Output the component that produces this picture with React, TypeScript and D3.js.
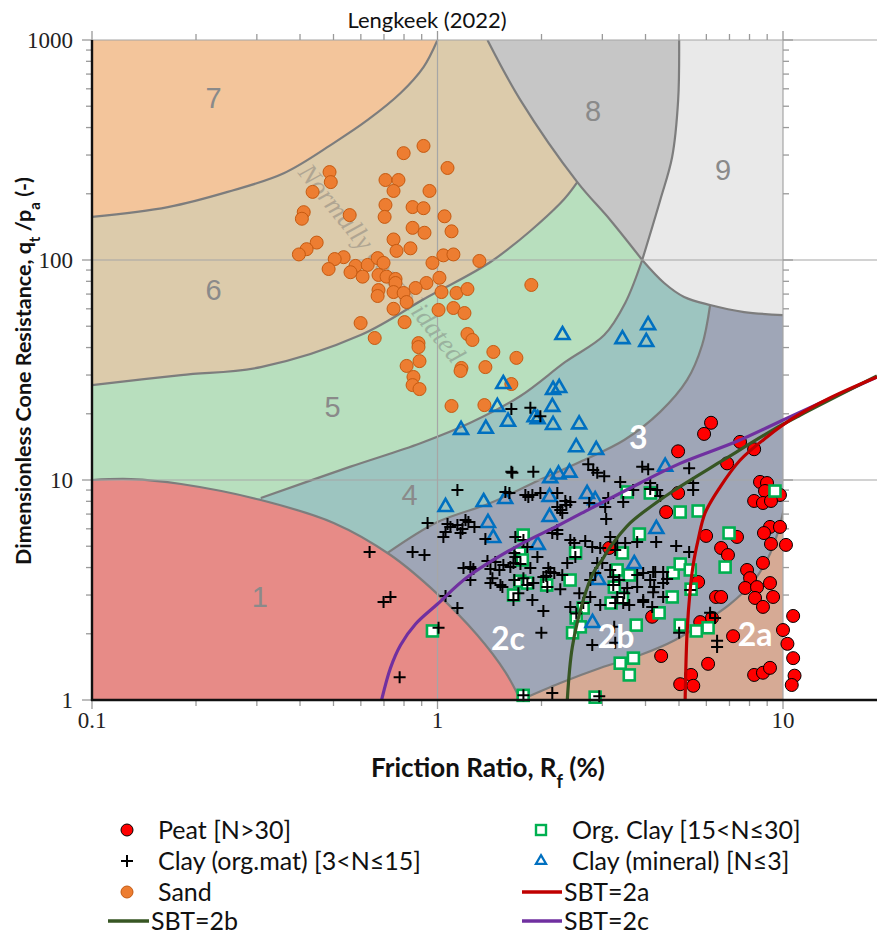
import { useEffect, useRef } from "react"
import * as d3 from "d3"

type Pt = [number, number]

// ---- data (Rf %, qt/pa) ----
const peat: Pt[] = [
  [6.19, 18.2], [5.91, 16.2], [4.97, 13.5], [7.51, 14.9], [8.25, 13.8], [6.89, 11.9], [4.97, 8.73], [4.59, 7.15],
  [8.58, 9.8], [8.99, 9.69], [8.87, 8.91], [9.8, 8.55], [8.25, 8.03], [8.75, 7.86], [9.23, 8.03], [9.17, 6.12],
  [9.8, 6.12], [8.81, 5.74], [9.23, 5.12], [10.2, 5.07], [5.99, 5.57], [7.36, 5.51], [6.62, 4.91], [6.93, 4.56],
  [7.87, 3.9], [8.75, 4.2], [8.03, 3.58], [7.77, 3.23], [8.41, 3.26], [9.17, 3.4], [8.3, 2.91], [9.36, 2.94],
  [8.75, 2.65], [10.7, 2.41], [5.68, 3.44], [6.4, 2.94], [6.62, 2.94], [5.76, 2.26], [6.23, 2.36], [7.17, 1.95],
  [10.0, 2.08], [10.3, 1.8], [10.7, 1.55], [4.44, 1.585], [6.07, 1.46], [8.25, 1.3], [8.75, 1.33], [9.17, 1.4],
  [10.8, 1.29], [10.6, 1.17], [5.04, 1.18], [5.42, 1.3], [5.5, 1.16], [4.18, 2.39], [3.14, 4.91],
]

const orgClay: Pt[] = [
  [0.967, 2.06], [1.77, 5.62], [1.73, 4.66], [1.76, 4.33], [1.73, 3.47], [1.82, 3.4], [1.66, 3.0], [2.07, 3.33],
  [2.42, 3.51], [2.51, 4.66], [1.77, 1.05], [2.86, 1.03], [3.54, 8.82], [4.13, 8.73], [3.84, 5.68], [3.43, 4.66],
  [3.31, 3.9], [3.59, 3.7], [3.25, 3.26], [3.43, 2.91], [3.18, 2.76], [2.64, 2.62], [2.52, 2.36], [2.46, 2.02],
  [2.59, 2.15], [3.76, 2.19], [3.38, 1.47], [3.69, 1.55], [3.59, 1.3], [5.04, 7.15], [5.68, 7.23], [6.98, 5.74],
  [6.8, 4.02], [9.48, 8.91], [4.81, 3.78], [5.04, 4.15], [5.39, 3.9], [5.42, 3.19], [4.78, 2.94], [4.38, 2.49],
  [5.04, 2.19], [5.61, 2.06], [6.07, 2.13],
]

const clayOrgMat: Pt[] = [
  [0.636, 4.71], [0.698, 2.79], [0.731, 2.94], [0.777, 1.27], [0.847, 4.71], [0.917, 4.56], [0.936, 6.38], [1.007, 2.13],
  [1.055, 2.97], [1.142, 2.62], [1.142, 9.0], [1.069, 6.31], [1.09, 6.11], [1.142, 6.24], [1.205, 6.58], [1.229, 6.44],
  [1.181, 5.99], [1.279, 6.11], [1.055, 5.81], [1.04, 5.51], [1.166, 5.74], [1.376, 5.39], [1.615, 8.73], [1.647, 10.8],
  [1.189, 3.98], [1.245, 4.02], [1.27, 3.94], [1.395, 4.28], [1.471, 4.24], [1.423, 3.94], [1.551, 4.11], [1.659, 4.2],
  [1.442, 3.58], [1.541, 3.26], [1.423, 3.4], [1.511, 3.9], [1.659, 2.85], [1.773, 3.58], [1.882, 2.85], [2.025, 2.54],
  [1.998, 2.02], [1.773, 1.05], [2.149, 1.076], [2.267, 3.19], [2.065, 3.66], [2.093, 3.98], [2.375, 4.2], [2.573, 3.06],
  [2.768, 2.94], [2.522, 2.47], [2.805, 1.78], [3.269, 1.82], [3.226, 3.33], [3.269, 2.76], [3.541, 3.23], [3.784, 3.26],
  [3.589, 2.7], [3.939, 2.79], [2.939, 1.04], [2.9, 4.2], [1.636, 21.0], [1.857, 21.3], [1.985, 19.5], [1.636, 10.9],
  [1.894, 10.9], [2.731, 11.8], [2.823, 11.1], [2.9, 10.8], [3.038, 10.4], [3.913, 11.5], [4.072, 11.2], [4.127, 9.69],
  [4.127, 9.1], [4.324, 9.0], [4.411, 8.46], [3.38, 9.8], [3.448, 7.94], [3.12, 8.28], [3.686, 9.0], [1.572, 8.82],
  [1.796, 8.55], [1.832, 8.37], [1.882, 8.55], [1.985, 8.73], [2.222, 8.73], [2.344, 8.03], [2.423, 7.94], [2.36, 7.7],
  [2.267, 7.31], [2.297, 7.08], [2.222, 7.54], [3.058, 7.54], [3.078, 6.65], [2.222, 5.93], [1.68, 5.51], [1.773, 5.34],
  [2.423, 5.34], [2.677, 5.28], [2.805, 4.96], [2.958, 4.91], [3.269, 4.81], [3.494, 5.17], [3.784, 5.23], [2.506, 4.47],
  [1.946, 4.47], [2.025, 3.62], [2.297, 3.7], [2.121, 3.82], [1.857, 3.98], [1.625, 4.02], [1.68, 4.47], [1.738, 4.15],
  [1.521, 3.33], [1.894, 3.4], [1.714, 3.06], [2.642, 2.76], [2.958, 2.7], [3.226, 3.62], [3.313, 2.94], [3.448, 2.76],
  [4.21, 3.09], [4.127, 3.51], [4.21, 3.82], [2.998, 4.2], [3.162, 3.9], [2.861, 3.78], [5.35, 11.3], [5.495, 9.69],
  [5.495, 9.0], [4.295, 5.23], [4.907, 5.01], [5.35, 4.71], [4.267, 3.82], [4.5, 3.82], [4.5, 3.4], [3.939, 3.78],
  [3.939, 2.85], [4.5, 2.94], [5.386, 3.16], [5.005, 2.02], [6.152, 2.49], [6.36, 2.36], [6.445, 1.86], [6.445, 1.74],
  [1.245, 3.51], [1.669, 3.51], [1.82, 3.33], [2.079, 3.26], [2.768, 3.51], [3.471, 3.06], [4.238, 3.26], [2.423, 2.65],
  [3.247, 2.15], [2.178, 3.78], [2.489, 5.17], [3.162, 5.51], [3.313, 5.17], [1.82, 4.96], [1.669, 4.66], [2.149, 5.74],
  [2.222, 5.68], [2.749, 7.86], [3.357, 3.51], [3.784, 3.7], [4.182, 2.65], [4.62, 3.55],
]

const clayMineral: Pt[] = [
  [2.3, 45.6], [3.43, 43.7], [4.07, 50.6], [4.02, 42.4], [1.55, 27.3], [2.16, 25.7], [2.25, 26.2], [1.49, 21.5],
  [2.15, 21.5], [1.91, 19.3], [1.95, 18.9], [1.6, 18.4], [2.16, 17.8], [2.57, 17.9], [1.17, 16.9], [1.38, 17.1],
  [2.52, 14.1], [2.88, 13.7], [4.56, 11.5], [2.12, 10.2], [2.24, 10.6], [2.41, 10.8], [2.11, 8.37], [1.57, 8.2],
  [1.36, 7.94], [1.055, 7.54], [2.71, 8.64], [2.86, 8.1], [1.4, 6.38], [1.45, 5.45], [2.11, 6.79], [1.95, 5.07],
  [3.71, 4.15], [4.3, 5.99], [2.92, 3.51], [2.81, 2.24],
]

const sand: Pt[] = [
  [0.911, 330], [0.798, 306], [1.069, 262], [0.487, 251], [0.491, 226], [0.707, 231], [0.771, 231], [0.746, 206],
  [0.948, 206], [0.435, 204], [0.707, 178], [0.847, 174], [0.911, 172], [1.048, 158], [0.41, 165], [0.405, 154],
  [0.557, 160], [0.703, 157], [0.847, 140], [0.917, 133], [1.098, 135], [0.746, 124], [0.835, 113], [0.761, 110],
  [0.447, 120], [0.418, 112], [0.397, 106], [0.535, 103], [0.504, 101], [0.484, 91], [0.579, 94], [0.628, 95],
  [0.671, 102], [0.698, 97], [0.56, 88], [0.607, 84], [0.675, 85.5], [0.712, 84], [0.756, 82], [0.756, 78.6],
  [0.967, 97], [1.04, 105], [1.112, 106], [1.322, 99], [1.013, 83], [0.929, 78.6], [0.864, 74.6], [0.675, 73],
  [0.671, 68.6], [0.746, 71.5], [0.798, 70.8], [0.814, 64.4], [1.027, 71.5], [1.135, 70.8], [1.221, 73.8], [0.746, 60],
  [1.007, 59.3], [1.112, 60.5], [1.197, 57.4], [1.869, 77], [0.599, 51.7], [0.803, 52.2], [0.658, 44.2], [1.221, 46.1],
  [1.262, 43.3], [0.881, 41.9], [0.881, 40.2], [1.451, 38.2], [1.692, 35.9], [0.887, 34.7], [0.814, 33], [1.173, 32.3],
  [1.166, 31.3], [1.376, 32.6], [0.852, 29.4], [0.847, 27], [0.887, 25.9], [1.636, 27.3], [1.098, 21.7], [1.367, 21.9],
]

// SBT boundary lines (Lengkeek 2022)
const sbt2a: Pt[] = [[5.209, 1], [5.276, 2.02], [5.386, 3.16], [5.495, 4.11], [5.68, 5.34], [5.95, 7.08], [6.575, 9.29], [7.51, 12.3], [8.99, 15.7], [10.69, 19.1], [13.67, 23.6], [18.7, 29.4]]
const sbt2b: Pt[] = [[2.375, 1], [2.456, 1.741], [2.642, 2.85], [2.823, 3.78], [3.018, 4.42], [3.162, 4.96], [3.613, 6.38], [4.324, 7.94], [4.809, 8.91], [6.708, 12.3], [9.357, 16.9], [11.2, 19.7], [18.7, 29.7]]
const sbt2c: Pt[] = [[0.689, 1], [0.731, 1.398], [0.782, 1.778], [0.864, 2.215], [1.0, 2.73], [1.221, 3.62], [1.703, 5.01], [2.222, 6.18], [2.59, 7.01], [3.861, 9.69], [5.039, 11.9], [7.363, 15.0], [10.27, 19.1], [18.7, 29.4]]

// Robertson SBT zone boundaries (background chart)
const b7: Pt[] = [[0.1, 157], [0.1658, 174], [0.247, 204], [0.359, 248], [0.5005, 340], [0.628, 433], [0.782, 574], [0.911, 753], [1.0, 1000]]
const b65: Pt[] = [[0.1, 27.0], [0.181, 30.0], [0.308, 32.6], [0.599, 45.6], [0.936, 67.9], [1.451, 100], [2.267, 181], [2.539, 226]]
const b8: Pt[] = [[1.395, 1000], [1.738, 533], [2.539, 226], [3.162, 152], [3.913, 100]]
const b89: Pt[] = [[5.005, 1000], [4.972, 533], [4.777, 294], [4.411, 187], [3.913, 100]]
const b9: Pt[] = [[3.913, 100], [4.529, 78.6], [5.175, 67.9], [6.152, 62.4], [7.716, 58.0], [10.0, 56.2]]
const b54: Pt[] = [[0.308, 8.28], [0.56, 11.5], [0.893, 14.7], [1.245, 18.2], [1.738, 24.1], [2.344, 34.4], [3.038, 45.6], [3.494, 63.8], [3.913, 100]]
const b1: Pt[] = [[0.1, 10], [0.1296, 10.1], [0.181, 9.59], [0.308, 8.11], [0.5005, 6.38], [0.731, 4.56], [1.0, 3.03], [1.305, 1.97], [1.572, 1.34], [1.738, 1]]
const b43: Pt[] = [[0.717, 4.66], [1.0, 6.44], [1.423, 7.86], [1.946, 9.9], [2.59, 12.1], [3.471, 15.2], [4.411, 20.4], [5.278, 28.5], [5.834, 41.1], [6.152, 62.4]]
const b32: Pt[] = [[1.738, 1], [2.267, 1.195], [2.958, 1.398], [3.861, 1.6], [4.874, 1.874], [5.911, 2.26], [7.026, 2.73], [8.136, 3.4], [9.05, 4.42], [9.67, 5.8], [10.07, 7.46]]

const zoneLabels: Array<[string, number, number]> = [
  ["7", 0.225, 545], ["6", 0.225, 73], ["5", 0.497, 21.5], ["4", 0.83, 8.55], ["1", 0.306, 2.94], ["8", 2.82, 476], ["9", 6.71, 256],
]
const sbtLabels: Array<[string, number, number]> = [["3", 3.81, 15.8], ["2c", 1.6, 1.93], ["2b", 3.29, 1.97], ["2a", 8.3, 2.0]]

const xTickLabels = [0.1, 1, 10]
const yTickLabels = [1, 10, 100, 1000]

export default function App() {
  const svgRef = useRef<SVGSVGElement>(null)

  useEffect(() => {
    if (!svgRef.current) return
    const svg = d3.select(svgRef.current)
    svg.selectAll("*").remove()

    const x = d3.scaleLog().domain([0.1, 10]).range([92, 783])
    const y = d3.scaleLog().domain([1, 1000]).range([700, 40])
    const xMax = 877

    const defs = svg.append("defs")
    defs.append("clipPath").attr("id", "zoneClip").append("rect")
      .attr("x", 92).attr("y", 40).attr("width", 783 - 92).attr("height", 660)
    defs.append("clipPath").attr("id", "plotClip").append("rect")
      .attr("x", 92).attr("y", 40).attr("width", xMax - 92).attr("height", 660)

    const line = d3.line<Pt>().x(d => x(d[0])).y(d => y(d[1])).curve(d3.curveCatmullRom.alpha(0.5))
    const seg = (pts: Pt[], rev = false) => line(rev ? [...pts].reverse() : pts)!
    const cont = (pts: Pt[], rev = false) => seg(pts, rev).replace(/^M/, "L")
    const P = (a: number, b: number) => `L${x(a)},${y(b)}`

    // ---- zones ----
    const zones = svg.append("g").attr("clip-path", "url(#zoneClip)")
    const fillZone = (d: string, c: string) => zones.append("path").attr("d", d).attr("fill", c)
    fillZone(`M${x(0.1)},${y(1)}${P(10, 1)}${P(10, 1000)}${P(0.1, 1000)}Z`, "#9fa6b7")
    fillZone(seg(b43) + P(6.152, 1000) + P(0.1, 1000) + P(0.1, 4.66) + "Z", "#9dc5c0")
    fillZone(seg(b54) + P(3.913, 1000) + P(0.1, 1000) + P(0.1, 8.28) + "Z", "#b8dfbe")
    fillZone(seg(b65) + cont(b8.slice(0, 3), true) + P(0.1, 1000) + "Z", "#dccbab")
    fillZone(seg(b7) + P(0.1, 1000) + "Z", "#f3c59b")
    fillZone(seg(b8) + cont(b89, true) + "Z", "#c6c6c6")
    fillZone(seg(b89) + cont(b9) + P(10, 1000) + "Z", "#e9e9e9")
    fillZone(seg(b32) + P(10.07, 1) + "Z", "#d6aa95")
    fillZone(seg(b1) + P(0.1, 1) + "Z", "#e78b87")

    ;[b7, b65, b8, b89, b9, b54, b1, b43, b32].forEach(b => {
      zones.append("path").attr("d", seg(b)).attr("fill", "none")
        .attr("stroke", "#7d7d7d").attr("stroke-width", 2.2)
    })

    // faint annotation of the background chart
    svg.append("text")
      .attr("transform", `translate(${x(0.68)},${y(95)}) rotate(51)`)
      .attr("text-anchor", "middle").attr("dominant-baseline", "middle")
      .style("font-family", "'Liberation Serif', serif").style("font-style", "italic")
      .style("font-size", "27px").style("fill", "#6f6f6f").style("opacity", 0.4)
      .text("Normally consolidated")

    zoneLabels.forEach(([t, a, b]) => {
      svg.append("text").attr("x", x(a)).attr("y", y(b))
        .attr("text-anchor", "middle").attr("dominant-baseline", "central")
        .style("font-family", "'Liberation Sans', sans-serif").style("font-size", "29px")
        .style("fill", "#8a8a8a").text(t)
    })

    // ---- grid ----
    const grid = svg.append("g")
    ;[10, 100, 1000].forEach(v => {
      grid.append("line").attr("x1", 92).attr("x2", xMax).attr("y1", y(v)).attr("y2", y(v))
        .attr("stroke", "#a6a6a6").attr("stroke-width", 1.2)
    })
    ;[1, 10].forEach(v => {
      grid.append("line").attr("x1", x(v)).attr("x2", x(v)).attr("y1", 40).attr("y2", 700)
        .attr("stroke", "#a6a6a6").attr("stroke-width", 1.2)
    })

    // ---- ticks ----
    const ticks = svg.append("g").attr("stroke", "#9a9a9a").attr("stroke-width", 1.3)
    const isMajor = (v: number) => Math.abs(Math.log10(v) - Math.round(Math.log10(v))) < 1e-6
    x.ticks().forEach(v => {
      const L = isMajor(v) ? 9 : 6
      ticks.append("line").attr("x1", x(v)).attr("x2", x(v)).attr("y1", 700).attr("y2", 700 + L)
      ticks.append("line").attr("x1", x(v)).attr("x2", x(v)).attr("y1", 40).attr("y2", 40 - L)
    })
    y.ticks().forEach(v => {
      const L = isMajor(v) ? 10 : 6
      ticks.append("line").attr("x1", 92).attr("x2", 92 - L).attr("y1", y(v)).attr("y2", y(v))
      ticks.append("line").attr("x1", 783).attr("x2", 783 + L).attr("y1", y(v)).attr("y2", y(v))
    })

    // ---- data markers ----
    const marks = svg.append("g")
    sand.forEach(d => {
      marks.append("circle").attr("cx", x(d[0])).attr("cy", y(d[1])).attr("r", 6.5)
        .attr("fill", "#ed7d31").attr("stroke", "#c55a11").attr("stroke-width", 1)
    })
    peat.forEach(d => {
      marks.append("circle").attr("cx", x(d[0])).attr("cy", y(d[1])).attr("r", 6.5)
        .attr("fill", "#ff0000").attr("stroke", "#000").attr("stroke-width", 1)
    })
    orgClay.forEach(d => {
      marks.append("rect").attr("x", x(d[0]) - 5.5).attr("y", y(d[1]) - 5.5).attr("width", 11).attr("height", 11)
        .attr("fill", "#fff").attr("stroke", "#00b050").attr("stroke-width", 2.6)
    })
    const tri = d3.symbol().type(d3.symbolTriangle).size(84)
    clayMineral.forEach(d => {
      marks.append("path").attr("d", tri()!).attr("transform", `translate(${x(d[0])},${y(d[1])})`)
        .attr("fill", "none").attr("stroke", "#0070c0").attr("stroke-width", 2.6)
    })
    clayOrgMat.forEach(d => {
      const cx = x(d[0]), cy = y(d[1])
      marks.append("path").attr("d", `M${cx - 6},${cy}H${cx + 6}M${cx},${cy - 6}V${cy + 6}`)
        .attr("stroke", "#000").attr("stroke-width", 2)
    })

    // ---- SBT lines ----
    const lines = svg.append("g").attr("clip-path", "url(#plotClip)")
    ;([[sbt2c, "#7030a0"], [sbt2b, "#375623"], [sbt2a, "#c00000"]] as Array<[Pt[], string]>).forEach(([pts, c]) => {
      lines.append("path").attr("d", seg(pts)).attr("fill", "none").attr("stroke", c).attr("stroke-width", 3.2)
    })

    sbtLabels.forEach(([t, a, b]) => {
      svg.append("text").attr("x", x(a)).attr("y", y(b))
        .attr("text-anchor", "middle").attr("dominant-baseline", "central")
        .style("font-family", "Lato, sans-serif").style("font-weight", "700").style("font-size", "32px")
        .style("fill", "#fff").text(t)
    })

    // ---- axes ----
    svg.append("line").attr("x1", 92).attr("x2", 92).attr("y1", 40).attr("y2", 701)
      .attr("stroke", "#111").attr("stroke-width", 2.4)
    svg.append("line").attr("x1", 91).attr("x2", xMax).attr("y1", 700).attr("y2", 700)
      .attr("stroke", "#111").attr("stroke-width", 2.4)

    const serif = "'Liberation Serif', 'Times New Roman', serif"
    yTickLabels.forEach(v => {
      svg.append("text").attr("x", 73).attr("y", y(v)).attr("text-anchor", "end")
        .attr("dominant-baseline", "central").style("font-family", serif).style("font-size", "23px")
        .style("fill", "#222").text(String(v))
    })
    xTickLabels.forEach(v => {
      svg.append("text").attr("x", x(v)).attr("y", 720).attr("text-anchor", "middle")
        .attr("dominant-baseline", "central").style("font-family", serif).style("font-size", "23px")
        .style("fill", "#222").text(String(v))
    })

    const sans = "Lato, 'Open Sans', sans-serif"
    svg.append("text").attr("x", 427).attr("y", 28).attr("text-anchor", "middle")
      .style("font-family", sans).style("font-size", "22px").style("fill", "#111").text("Lengkeek (2022)")

    const xl = svg.append("text").attr("x", 488).attr("y", 777).attr("text-anchor", "middle")
      .style("font-family", sans).style("font-size", "26px").style("font-weight", "700").style("fill", "#111")
    xl.append("tspan").text("Friction Ratio, R")
    xl.append("tspan").attr("baseline-shift", "sub").style("font-size", "18px").text("f")
    xl.append("tspan").text("  (%)")

    const yl = svg.append("text").attr("transform", "translate(31,371) rotate(-90)").attr("text-anchor", "middle")
      .style("font-family", sans).style("font-size", "21.5px").style("font-weight", "700").style("fill", "#111")
    yl.append("tspan").text("Dimensionless Cone Resistance, q")
    yl.append("tspan").attr("baseline-shift", "sub").style("font-size", "15px").text("t")
    yl.append("tspan").text(" /p")
    yl.append("tspan").attr("baseline-shift", "sub").style("font-size", "15px").text("a")
    yl.append("tspan").text(" (-)")

    // ---- legend ----
    const lg = svg.append("g").style("font-family", sans).style("font-size", "25px").style("fill", "#111")
    const label = (tx: number, ty: number, t: string) =>
      lg.append("text").attr("x", tx).attr("y", ty + 8.5).text(t)
    lg.append("circle").attr("cx", 127).attr("cy", 830).attr("r", 6)
      .attr("fill", "#ff0000").attr("stroke", "#000").attr("stroke-width", 1)
    label(158, 830, "Peat [N>30]")
    lg.append("path").attr("d", "M121,861H133M127,855V867").attr("stroke", "#000").attr("stroke-width", 2)
    label(158, 861, "Clay (org.mat) [3<N≤15]")
    lg.append("circle").attr("cx", 127).attr("cy", 892).attr("r", 6)
      .attr("fill", "#ed7d31").attr("stroke", "#c55a11").attr("stroke-width", 1)
    label(158, 892, "Sand")
    lg.append("line").attr("x1", 108).attr("x2", 149).attr("y1", 921).attr("y2", 921)
      .attr("stroke", "#375623").attr("stroke-width", 3.5)
    label(151, 921, "SBT=2b")
    lg.append("rect").attr("x", 536).attr("y", 825).attr("width", 10).attr("height", 10)
      .attr("fill", "#fff").attr("stroke", "#00b050").attr("stroke-width", 2.4)
    label(572, 830, "Org. Clay [15<N≤30]")
    lg.append("path").attr("d", tri.size(45)()!).attr("transform", "translate(541,861)")
      .attr("fill", "none").attr("stroke", "#0070c0").attr("stroke-width", 2.2)
    label(572, 861, "Clay (mineral) [N≤3]")
    lg.append("line").attr("x1", 522).attr("x2", 562).attr("y1", 892).attr("y2", 892)
      .attr("stroke", "#c00000").attr("stroke-width", 3.5)
    label(564, 892, "SBT=2a")
    lg.append("line").attr("x1", 522).attr("x2", 562).attr("y1", 921).attr("y2", 921)
      .attr("stroke", "#7030a0").attr("stroke-width", 3.5)
    label(564, 921, "SBT=2c")
  }, [])

  return <svg ref={svgRef} width={877} height={938} style={{ position: "absolute", left: 0, top: 0 }} />
}
